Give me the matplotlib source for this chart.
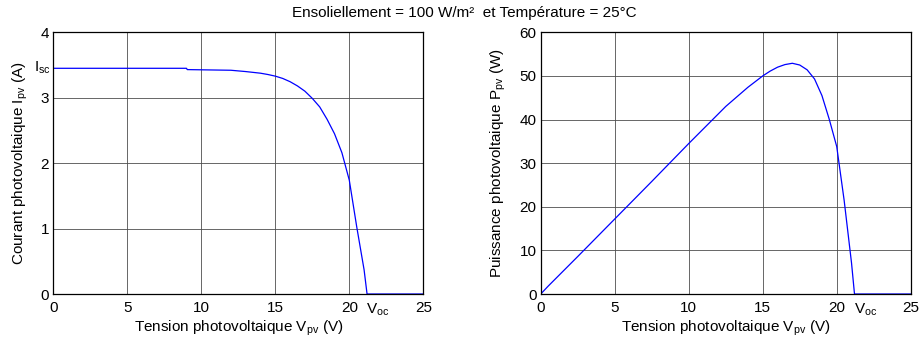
import matplotlib.pyplot as plt

plt.rcParams["font.family"] = ["Liberation Sans", "DejaVu Sans"]
plt.rcParams["mathtext.default"] = "regular"
plt.rcParams["font.size"] = 11

# I-V curve
v_iv = [0, 9, 9.05, 12, 13, 14, 14.5, 15, 15.5, 16, 16.5, 17, 17.5, 18, 18.5, 19,
        19.5, 20, 20.5, 21, 21.2, 25]
i_pv = [3.45, 3.45, 3.43, 3.42, 3.40, 3.375, 3.355, 3.33, 3.295, 3.245, 3.18, 3.10,
        2.99, 2.86, 2.67, 2.45, 2.16, 1.74, 1.03, 0.37, 0.0, 0.0]

# P-V curve
v_pv = [0, 0.5, 2.5, 5, 7.5, 10, 12.5, 14, 15, 15.5, 16, 16.5, 17, 17.5, 18, 18.5,
        19, 19.5, 20, 20.5, 21, 21.2, 25]
p_pv = [0, 1.8, 8.6, 17.2, 25.8, 34.5, 43.0, 47.4, 50.0, 51.1, 52.0, 52.6, 52.9,
        52.5, 51.4, 49.3, 45.5, 40.0, 33.8, 21.5, 7.1, 0.0, 0.0]

x_ticks = [0, 5, 10, 15, 20, 25]
v_oc = 21.95
i_sc = 3.45

fig = plt.figure(figsize=(9.19, 3.39), dpi=100)
ax1 = fig.add_axes([0.058, 0.1327, 0.4026, 0.772])
ax2 = fig.add_axes([0.5884, 0.1327, 0.4026, 0.772])

for ax in (ax1, ax2):
    ax.set_xlim(0, 25)
    ax.set_xticks(x_ticks)
    ax.grid(True, color="0.3", lw=0.6)
    ax.tick_params(axis="x", direction="in", length=0, pad=5, labelsize=11)
    ax.tick_params(axis="y", direction="in", length=0, pad=3, labelsize=11)
    for s in ax.spines.values():
        s.set_linewidth(0.9)
    ax.set_xlabel("Tension photovoltaique V$_{pv}$ (V)", fontsize=11, labelpad=3)
    ax.text(v_oc, -0.03, "V$_{oc}$", transform=ax.get_xaxis_transform(),
            ha="center", va="top", fontsize=11)

ax1.plot(v_iv, i_pv, color="#0000ff", lw=0.9)
ax1.set_ylim(0, 4)
ax1.set_yticks([0, 1, 2, 3, 4])
ax1.set_ylabel("Courant photovoltaique I$_{pv}$ (A)", fontsize=11, labelpad=8)
ax1.text(-0.006, i_sc, "I$_{sc}$", transform=ax1.get_yaxis_transform(),
         ha="right", va="center", fontsize=11)

ax2.plot(v_pv, p_pv, color="#0000ff", lw=0.9)
ax2.set_ylim(0, 60)
ax2.set_yticks([0, 10, 20, 30, 40, 50, 60])
ax2.set_ylabel("Puissance photovoltaique P$_{pv}$ (W)", fontsize=11, labelpad=8)

fig.text(0.505, 0.962, "Ensoliellement = 100 W/m\u00b2  et Température = 25°C",
         ha="center", va="center", fontsize=11)

fig.savefig("out.png", dpi=100)
